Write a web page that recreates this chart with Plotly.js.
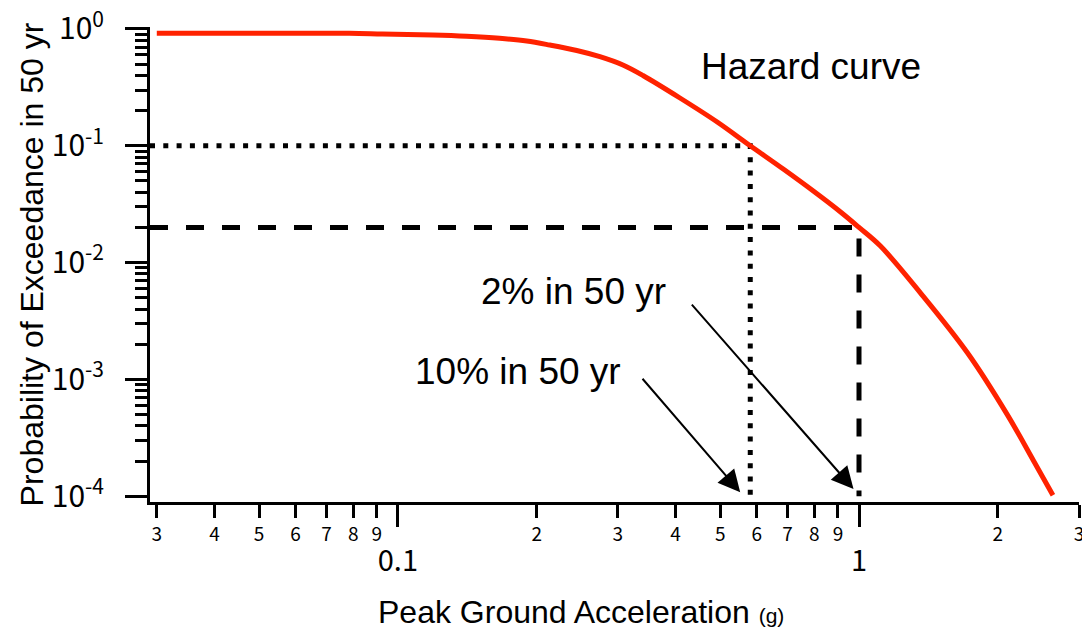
<!DOCTYPE html>
<html>
<head>
<meta charset="utf-8">
<script src="https://cdn.plot.ly/plotly-3.0.1.min.js"></script>
<style>
  html, body { margin: 0; padding: 0; background: #ffffff; }
  #chart { width: 1082px; height: 630px; }
</style>
</head>
<body>
<div id="chart"></div>
<script>
// Seismic hazard curve: probability of exceedance in 50 years vs. peak ground acceleration (g)
const pga = [0.03, 0.05, 0.0784, 0.0925, 0.1189, 0.1409, 0.1662, 0.1903, 0.2135, 0.2443, 0.2742, 0.3076, 0.340, 0.409, 0.4926, 0.581, 0.6851, 0.796, 0.912, 1.0, 1.113, 1.36, 1.72, 2.10, 2.394, 2.634];
const probExceed = [0.919, 0.919, 0.919, 0.906, 0.888, 0.866, 0.832, 0.789, 0.729, 0.6545, 0.579, 0.4915, 0.3997, 0.2565, 0.1598, 0.1, 0.0632, 0.04097, 0.0271, 0.02, 0.01384, 0.00548, 0.00168, 0.000494, 0.0001994, 0.000102];

// Design levels
const levelProb = [0.1, 0.02];          // 10% and 2% in 50 yr
const levelPga = [0.581, 1.0];          // PGA where the curve crosses each level
const axisMinPga = 0.029;
const axisMaxPga = 3.0;
const axisMinProb = 0.0001;

// Tick values and labels
const xMinorTicks = [0.03, 0.04, 0.05, 0.06, 0.07, 0.08, 0.09, 0.2, 0.3, 0.4, 0.5, 0.6, 0.7, 0.8, 0.9, 2, 3];
const xMinorLabels = ['3', '4', '5', '6', '7', '8', '9', '2', '3', '4', '5', '6', '7', '8', '9', '2', '3'];
const xMajorTicks = [0.1, 1];
const xMajorLabels = ['0.1', '1'];
const yMajorTicks = [1, 0.1, 0.01, 0.001, 0.0001];
const yMajorLabels = ['10<sup>0</sup>', '10<sup>-1</sup>', '10<sup>-2</sup>', '10<sup>-3</sup>', '10<sup>-4</sup>'];
const yMinorTicks = [];
[0.0001, 0.001, 0.01, 0.1].forEach(function (d) {
  for (let k = 2; k <= 9; k++) yMinorTicks.push(+(d * k).toPrecision(3));
});

const sans = 'Liberation Sans, Arial, sans-serif';
const jp = 'Noto Sans CJK JP, Liberation Sans, sans-serif';

const traces = [
  {
    // 10% in 50 yr guide (dotted)
    x: [axisMinPga, levelPga[0], levelPga[0]],
    y: [levelProb[0], levelProb[0], axisMinProb],
    xaxis: 'x', yaxis: 'y',
    mode: 'lines',
    line: { color: '#000000', width: 5, dash: '5px,8.3px' },
    hoverinfo: 'skip',
    showlegend: false
  },
  {
    // 2% in 50 yr guide (dashed)
    x: [axisMinPga, levelPga[1], levelPga[1]],
    y: [levelProb[1], levelProb[1], axisMinProb],
    xaxis: 'x', yaxis: 'y',
    mode: 'lines',
    line: { color: '#000000', width: 5, dash: '18px,18px' },
    hoverinfo: 'skip',
    showlegend: false
  },
  {
    x: pga,
    y: probExceed,
    xaxis: 'x2', yaxis: 'y',
    mode: 'lines',
    line: { color: '#ff2200', width: 5, shape: 'spline', smoothing: 1 },
    name: 'Hazard curve',
    showlegend: false
  }
];

const layout = {
  width: 1082,
  height: 630,
  margin: { l: 150, r: 3, t: 27, b: 128, pad: 0 },
  paper_bgcolor: '#ffffff',
  plot_bgcolor: '#ffffff',
  showlegend: false,
  xaxis: {
    type: 'log',
    range: [Math.log10(axisMinPga), Math.log10(axisMaxPga)],
    tickmode: 'array',
    tickvals: xMinorTicks,
    ticktext: xMinorLabels,
    ticks: 'outside',
    ticklen: 13,
    tickwidth: 3,
    tickcolor: '#000000',
    showline: true,
    linecolor: '#000000',
    linewidth: 3,
    showgrid: false,
    zeroline: false,
    ticklabeloverflow: 'allow',
    tickfont: { family: jp, size: 19, color: '#000000' }
  },
  xaxis2: {
    type: 'log',
    overlaying: 'x',
    anchor: 'y',
    side: 'bottom',
    range: [Math.log10(axisMinPga), Math.log10(axisMaxPga)],
    tickmode: 'array',
    tickvals: xMajorTicks,
    ticktext: xMajorLabels,
    ticks: 'outside',
    ticklen: 24,
    tickwidth: 3,
    tickcolor: '#000000',
    showline: false,
    showgrid: false,
    zeroline: false,
    ticklabelstandoff: 9,
    tickfont: { family: jp, size: 29, color: '#000000' }
  },
  yaxis: {
    type: 'log',
    range: [-4.05, 0.017],
    tickmode: 'array',
    tickvals: yMajorTicks,
    ticktext: yMajorLabels,
    ticks: 'outside',
    ticklen: 22,
    tickwidth: 3,
    tickcolor: '#000000',
    minor: { tickmode: 'array', tickvals: yMinorTicks, ticks: 'outside', ticklen: 12, tickwidth: 3, tickcolor: '#000000', showgrid: false },
    showline: true,
    linecolor: '#000000',
    linewidth: 3,
    showgrid: false,
    zeroline: false,
    ticklabelstandoff: 15,
    tickfont: { family: jp, size: 30, color: '#000000' },
    title: {
      text: 'Probability of Exceedance in 50 yr',
      font: { family: sans, size: 32, color: '#000000' }
    }
  },
  annotations: [
    {
      // x-axis title, set slightly left of the plot centre
      xref: 'paper', yref: 'paper',
      x: (581 - 150) / 929, y: (502 - 612) / 475,
      xanchor: 'center', yanchor: 'middle',
      text: 'Peak Ground Acceleration <span style="font-size:21px">(g)</span>',
      showarrow: false,
      font: { family: sans, size: 32, color: '#000000' }
    },
    {
      xref: 'paper', yref: 'paper',
      x: (923 - 150) / 929, y: (502 - 66) / 475,
      xanchor: 'right', yanchor: 'middle',
      text: 'Hazard curve', showarrow: false,
      font: { family: sans, size: 37, color: '#000000' }
    },
    {
      xref: 'paper', yref: 'paper',
      x: (668 - 150) / 929, y: (502 - 291) / 475,
      xanchor: 'right', yanchor: 'middle',
      text: '2% in 50 yr', showarrow: false,
      font: { family: sans, size: 37, color: '#000000' }
    },
    {
      xref: 'paper', yref: 'paper',
      x: (623 - 150) / 929, y: (502 - 371) / 475,
      xanchor: 'right', yanchor: 'middle',
      text: '10% in 50 yr', showarrow: false,
      font: { family: sans, size: 37, color: '#000000' }
    },
    {
      // arrow toward the 10% design PGA
      xref: 'x', yref: 'y',
      x: Math.log10(0.5526), y: Math.log10(1.08e-4),
      ax: -99, ay: -115,
      text: '', showarrow: true,
      arrowhead: 2, arrowsize: 2.2, arrowwidth: 2, arrowcolor: '#000000'
    },
    {
      // arrow toward the 2% design PGA
      xref: 'x', yref: 'y',
      x: Math.log10(0.973), y: Math.log10(1.15e-4),
      ax: -163, ay: -186,
      text: '', showarrow: true,
      arrowhead: 2, arrowsize: 2.2, arrowwidth: 2, arrowcolor: '#000000'
    }
  ]
};

Plotly.newPlot('chart', traces, layout, { displayModeBar: false, staticPlot: true });
</script>
</body>
</html>
